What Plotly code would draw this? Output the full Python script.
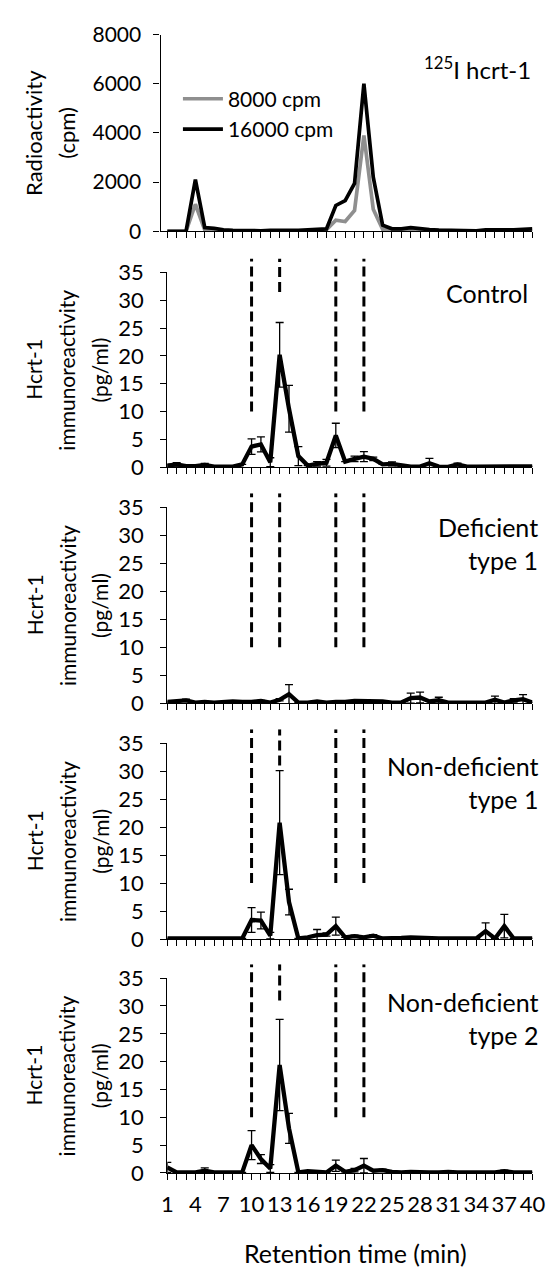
import plotly.graph_objects as go

W, H = 557, 1276

# ---------------- data ----------------
retention = list(range(1, 41))
x_ticklabels = [str(v) if (v - 1) % 3 == 0 else "" for v in retention]

cpm_8000 = [0, 0, 0, 1100, 50, 30, 20, 20, 10, 10, 10, 10, 10, 10, 10, 20, 30, 60, 450, 400,
            850, 3900, 900, 80, 40, 40, 60, 40, 30, 20, 20, 20, 10, 10, 20, 20, 20, 30, 40, 50]
cpm_16000 = [0, 0, 0, 2100, 150, 120, 60, 40, 30, 30, 20, 40, 40, 20, 40, 60, 70, 100, 1050, 1250,
             1950, 6000, 2200, 250, 100, 100, 150, 100, 70, 50, 40, 30, 30, 20, 60, 50, 50, 60, 80, 100]

control_mean = [0.3, 0.5, 0.2, 0.2, 0.4, 0.1, 0.1, 0.1, 0.5, 3.7, 4.1, 0.9, 20.2, 10.5, 2.0, 0.3, 0.6, 0.8, 5.7, 1.0,
                1.5, 1.9, 1.5, 0.5, 0.6, 0.3, 0.1, 0.1, 0.7, 0.1, 0.05, 0.5, 0.1, 0.1, 0.1, 0.1, 0.1, 0.1, 0.1, 0.15]
control_sd = [0.2, 0.3, 0, 0, 0.3, 0, 0, 0, 0, 1.4, 1.35, 0.8, 5.8, 4.2, 1.7, 0, 0.4, 0.6, 2.2, 0,
              0.5, 0.9, 0.3, 0, 0.35, 0, 0, 0, 0.9, 0, 0, 0.25, 0, 0, 0, 0, 0, 0, 0, 0]

def1_mean = [0.2, 0.3, 0.5, 0.1, 0.2, 0.1, 0.2, 0.3, 0.2, 0.2, 0.4, 0.1, 0.6, 1.6, 0.1, 0.1, 0.3, 0.1, 0.2, 0.2,
             0.4, 0.4, 0.4, 0.3, 0.1, 0.1, 0.9, 1.0, 0.3, 0.5, 0.1, 0.1, 0.1, 0.1, 0.1, 0.6, 0.1, 0.5, 0.7, 0.1]
def1_sd = [0, 0, 0.2, 0, 0, 0, 0, 0, 0, 0, 0.1, 0, 0.2, 1.7, 0, 0, 0, 0, 0, 0,
           0, 0, 0, 0, 0, 0, 0.9, 0.95, 0, 0.55, 0, 0, 0, 0, 0, 0.65, 0, 0.3, 0.8, 0]

nd1_mean = [0.1, 0.1, 0.1, 0.2, 0.1, 0.1, 0.1, 0.1, 0.1, 3.4, 3.3, 0.6, 20.8, 6.6, 0.1, 0.3, 0.7, 0.8, 2.3, 0.3,
            0.5, 0.3, 0.6, 0.1, 0.1, 0.2, 0.3, 0.2, 0.1, 0.1, 0.1, 0.1, 0.1, 0.1, 1.4, 0.1, 2.3, 0.1, 0.1, 0.1]
nd1_sd = [0, 0, 0, 0, 0, 0, 0, 0, 0, 2.2, 1.5, 0.6, 9.3, 2.3, 0, 0, 1.0, 0.3, 1.6, 0,
          0.2, 0, 0.2, 0, 0, 0, 0, 0, 0, 0, 0, 0, 0, 0, 1.5, 0, 2.1, 0, 0, 0]

nd2_mean = [1.0, 0.1, 0.1, 0.1, 0.4, 0.1, 0.1, 0.1, 0.1, 5.0, 2.5, 0.8, 19.4, 8.0, 0.1, 0.3, 0.2, 0.1, 1.3, 0.2,
            0.5, 1.3, 0.4, 0.5, 0.2, 0.1, 0.2, 0.1, 0.1, 0.1, 0.2, 0.1, 0.1, 0.1, 0.1, 0.1, 0.3, 0.1, 0.1, 0.1]
nd2_sd = [0.9, 0, 0, 0, 0.5, 0, 0, 0, 0, 2.6, 0.8, 0.7, 8.2, 2.7, 0, 0, 0, 0, 1.0, 0,
          0.3, 1.3, 0, 0.2, 0, 0, 0, 0, 0, 0, 0, 0, 0, 0, 0, 0, 0.2, 0, 0, 0]

panel_labels = ["Control", "Deficient<br>type 1", "Non-deficient<br>type 1", "Non-deficient<br>type 2"]
panel_means = [control_mean, def1_mean, nd1_mean, nd2_mean]
panel_sds = [control_sd, def1_sd, nd1_sd, nd2_sd]

dash_x = [10, 13, 19, 22]
dash_lo = [[10, 31.5, 10, 10], [10, 10, 10, 10], [10, 31, 10, 10], [10, 31, 10, 10]]
dash_hi = 37.5

cpm_ticks = [0, 2000, 4000, 6000, 8000]
pg_ticks = [0, 5, 10, 15, 20, 25, 30, 35]

# ---------------- layout geometry (pixels) ----------------
FONT = "Lato"
def fx(p):
    return p / W
def fy(p):
    return 1 - p / H

X_AXIS_TOP = 160
X_FIRST = 167
X_LAST = 545
step = (X_LAST - X_FIRST) / 39.0

top_zero, top_max = 222, 21
low_zero = [463, 704, 945, 1184]
low_35 = [264, 504, 745, 985]
label_right = [542, 553, 553, 553]
label_y = [285, 541, 785, 1026]

fig = go.Figure()

common_x = dict(showline=True, linecolor="black", linewidth=1.3, ticks="outside", ticklen=6,
                tickwidth=1.2, tickcolor="black", showgrid=False, zeroline=False,
                tickmode="array", tickvals=retention, fixedrange=True)
common_y = dict(showline=True, linecolor="black", linewidth=1.3, ticks="outside", ticklen=6,
                tickwidth=1.2, tickcolor="black", showgrid=False, zeroline=False,
                tickmode="array", fixedrange=True, tickfont=dict(family=FONT, size=22, color="black"),
                ticklabelstandoff=12)

layout = dict(width=W, height=H, margin=dict(l=0, r=0, t=0, b=0),
              plot_bgcolor="rgba(0,0,0,0)", paper_bgcolor="white",
              font=dict(family=FONT, size=21, color="black"),
              showlegend=True,
              legend=dict(x=fx(178), y=fy(66), xanchor="left", yanchor="top",
                          bgcolor="rgba(0,0,0,0)", font=dict(family=FONT, size=21, color="black"),
                          tracegroupgap=0, itemwidth=40))

# top panel
layout["xaxis"] = dict(common_x, domain=[fx(X_AXIS_TOP), fx(X_LAST)],
                       range=[1 - (X_FIRST - X_AXIS_TOP) / step, 40], anchor="y", showticklabels=False)
layout["yaxis"] = dict(common_y, domain=[fy(top_zero), fy(top_max)], range=[0, 8000], anchor="x",
                       tickvals=cpm_ticks, tickfont=dict(family=FONT, size=21, color="black"),
                       ticklabelstandoff=8)

fig.add_trace(go.Scatter(x=retention, y=cpm_8000, mode="lines", name="8000 cpm",
                         line=dict(color="#8f8f8f", width=3.7), xaxis="x", yaxis="y"))
fig.add_trace(go.Scatter(x=retention, y=cpm_16000, mode="lines", name="16000 cpm",
                         line=dict(color="black", width=3.7), xaxis="x", yaxis="y"))

annotations = []
annotations.append(dict(text="<sup>125</sup>I hcrt-1", x=fx(546), y=fy(55), xref="paper", yref="paper",
                        xanchor="right", yanchor="middle", showarrow=False,
                        font=dict(family=FONT, size=24, color="black")))
for txt, cx in [("Radioactivity", 29), ("(cpm)", 63)]:
    annotations.append(dict(text=txt, x=fx(cx), y=fy((top_zero + top_max) / 2), xref="paper", yref="paper",
                            xanchor="center", yanchor="middle", textangle=-90, showarrow=False,
                            font=dict(family=FONT, size=22, color="black")))

for i in range(4):
    n = 2 + i
    no = 6 + i
    z, t = low_zero[i], low_35[i]
    ppu = (z - t) / 35.0
    top_ext = z - dash_hi * ppu
    last = (i == 3)
    layout[f"xaxis{n}"] = dict(common_x, domain=[fx(X_FIRST), fx(X_LAST)], range=[1, 40], anchor=f"y{n}",
                               showticklabels=last, ticktext=x_ticklabels,
                               tickfont=dict(family=FONT, size=22, color="black"),
                               ticklabelstandoff=6, ticklabeloverflow="allow")
    layout[f"yaxis{n}"] = dict(common_y, domain=[fy(z), fy(t)], range=[0, 35], anchor=f"x{n}",
                               tickvals=pg_ticks)
    # invisible overlay axes with identical scale, extended upward for the dashed markers
    layout[f"xaxis{no}"] = dict(domain=[fx(X_FIRST), fx(X_LAST)], range=[1, 40], anchor=f"y{no}",
                                visible=False, fixedrange=True)
    layout[f"yaxis{no}"] = dict(domain=[fy(z), fy(top_ext)], range=[0, dash_hi], anchor=f"x{no}",
                                visible=False, fixedrange=True)

    for dx, lo in zip(dash_x, dash_lo[i]):
        fig.add_trace(go.Scatter(x=[dx, dx], y=[lo, dash_hi], mode="lines", showlegend=False,
                                 line=dict(color="black", width=3, dash="10px,5px"),
                                 xaxis=f"x{no}", yaxis=f"y{no}", hoverinfo="skip"))

    sd = [s if s > 0 else None for s in panel_sds[i]]
    fig.add_trace(go.Scatter(x=retention, y=panel_means[i], mode="lines", showlegend=False,
                             line=dict(color="black", width=4.3),
                             error_y=dict(type="data", array=sd, visible=True, color="black",
                                          thickness=1.3, width=4),
                             cliponaxis=False, xaxis=f"x{n}", yaxis=f"y{n}"))

    annotations.append(dict(text=panel_labels[i], x=fx(label_right[i]), y=fy(label_y[i]),
                            xref="paper", yref="paper", xanchor="right", yanchor="middle",
                            align="right", showarrow=False,
                            font=dict(family=FONT, size=25, color="black")))
    cy = (z + t) / 2
    for txt, cx in [("Hcrt-1", 29), ("immunoreactivity", 63), ("(pg/ml)", 97)]:
        annotations.append(dict(text=txt, x=fx(cx), y=fy(cy), xref="paper", yref="paper",
                                xanchor="center", yanchor="middle", textangle=-90, showarrow=False,
                                font=dict(family=FONT, size=21, color="black")))

annotations.append(dict(text="Retention time (min)", x=fx(362), y=fy(1266), xref="paper", yref="paper",
                        xanchor="center", yanchor="middle", showarrow=False,
                        font=dict(family=FONT, size=25, color="black")))

layout["annotations"] = annotations
fig.update_layout(**layout)
fig.write_html("out.html", config={"displayModeBar": False},
               post_script="document.body.style.margin='0';document.body.style.overflow='hidden';")
